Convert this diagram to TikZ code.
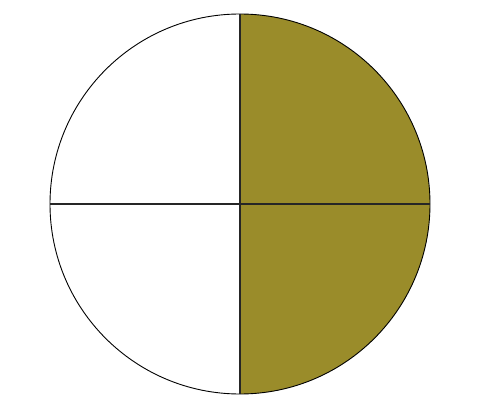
\documentclass[tikz,border=0pt]{standalone}
\usetikzlibrary{calc}
\definecolor{olivefill}{HTML}{9A8C2A}

\begin{document}
\begin{tikzpicture}[
  x=1pt, y=1pt,
  rim/.style={draw=black, line width=0.9pt},
  cut/.style={draw=black!85, line width=1.6pt},
]
\useasboundingbox (0,0) rectangle (490,408);

% ================= circle in quarters ==============================
\coordinate (centre) at (240,204);
\coordinate (top)    at (240,394);
\coordinate (bottom) at (240,14);
\coordinate (west)   at (50,204);
\coordinate (east)   at (430,204);

% right half shaded
\fill[olivefill] (bottom) arc[start angle=-90, end angle=90, radius=190] -- cycle;
\draw[rim] (centre) circle[radius=190];

% dividing lines
\draw[cut] (top) -- (bottom);
\draw[cut] (west) -- (east);

\end{tikzpicture}
\end{document}
